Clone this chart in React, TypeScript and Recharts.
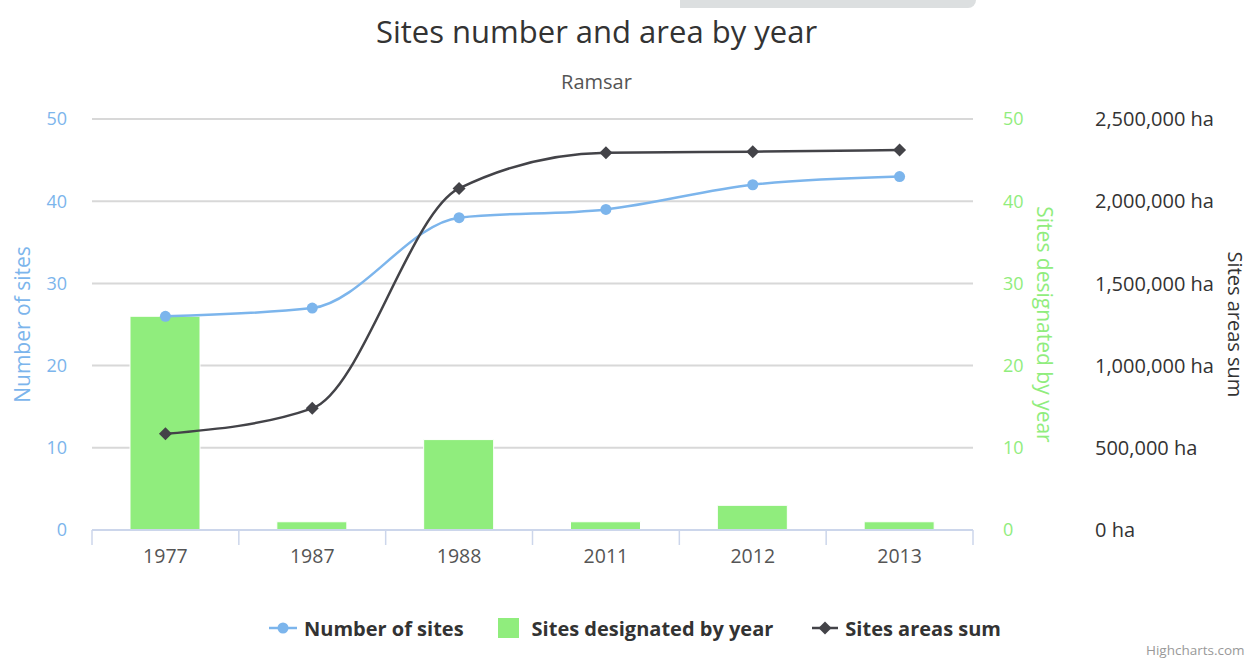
import React from 'react';
import {
  ComposedChart, Bar, Line, XAxis, YAxis, CartesianGrid,
} from 'recharts';

const years = ['1977', '1987', '1988', '2011', '2012', '2013'];
const numberOfSites = [26, 27, 38, 39, 42, 43];
const sitesDesignated = [26, 1, 11, 1, 3, 1];
const areasSum = [585000, 740000, 2078000, 2295000, 2301000, 2311000];

const countTicks = [0, 10, 20, 30, 40, 50];
const areaTicks = [0, 500000, 1000000, 1500000, 2000000, 2500000];

const data = years.map((y, i) => ({
  year: y,
  sites: numberOfSites[i],
  designated: sitesDesignated[i],
  area: areasSum[i],
}));

const BLUE = '#7cb5ec';
const GREEN = '#90ed7d';
const DARK = '#434348';
const AXIS = '#ccd6eb';
const FONT = '"Open Sans", sans-serif';

const Diamond = (props: any) => {
  const { cx, cy } = props;
  if (cx == null || cy == null) return null;
  const s = 6.5;
  return <path d={`M${cx},${cy - s}L${cx + s},${cy}L${cx},${cy + s}L${cx - s},${cy}Z`} fill={DARK} />;
};

const CategoryTick = (props: any) => {
  const { x, y, payload, index } = props;
  const half = payload && typeof payload.offset === 'number' ? payload.offset : 0;
  const last = index === years.length - 1;
  return (
    <g>
      {half > 0 && <line x1={x - half} y1={y} x2={x - half} y2={y + 15} stroke={AXIS} strokeWidth={1.5} />}
      {half > 0 && last && <line x1={x + half} y1={y} x2={x + half} y2={y + 15} stroke={AXIS} strokeWidth={1.5} />}
      <text x={x} y={y + 19} dy="0.71em" textAnchor="middle" fill="#555" fontSize={19.5} fontFamily={FONT}>
        {payload.value}
      </text>
    </g>
  );
};

const AxisTitle = (props: any) => {
  const { viewBox, text, color, off, rot, size } = props;
  if (!viewBox) return null;
  const cx = viewBox.x + off;
  const cy = viewBox.y + viewBox.height / 2;
  return (
    <text x={cx} y={cy} transform={`rotate(${rot} ${cx} ${cy})`} textAnchor="middle"
      dominantBaseline="central" fill={color} fontSize={size || 21} fontFamily={FONT}>
      {text}
    </text>
  );
};

const fmtArea = (v: number) => `${v.toLocaleString('en-US')} ha`;

export default function App() {
  return (
    <div style={{ position: 'absolute', left: 0, top: 0, width: 1249, height: 659, overflow: 'hidden', background: '#fff', fontFamily: FONT }}>
      <div style={{ position: 'absolute', left: 680, top: 0, width: 296, height: 8, background: '#dcdfe0', borderBottomRightRadius: 10 }} />
      <div style={{ position: 'absolute', left: 0, top: 16, width: 1193, textAlign: 'center', fontSize: 31, lineHeight: '30px', color: '#333' }}>
        Sites number and area by year
      </div>
      <div style={{ position: 'absolute', left: 0, top: 72, width: 1193, textAlign: 'center', fontSize: 20, lineHeight: '20px', color: '#555' }}>
        Ramsar
      </div>
      <ComposedChart width={1249} height={659} data={data} margin={{ top: 119, right: 0, bottom: 89, left: 0 }}>
        <CartesianGrid vertical={false} stroke="#d8d8d8" strokeWidth={2} yAxisId="sites" />
        <XAxis xAxisId="b_cat" dataKey="year" height={40} tickLine={false} tickSize={0} tickMargin={0}
          axisLine={{ stroke: AXIS, strokeWidth: 2 }} tick={<CategoryTick />} />
        <YAxis yAxisId="sites" orientation="left" width={92} domain={[0, 50]} ticks={countTicks}
          axisLine={false} tickLine={false} tickSize={0} tickMargin={25}
          tick={{ fill: BLUE, fontSize: 18, fontFamily: FONT }}
          label={<AxisTitle text="Number of sites" color={BLUE} off={22} rot={-90} />} />
        <YAxis yAxisId="b_area" orientation="right" width={166} domain={[0, 2500000]} ticks={areaTicks}
          axisLine={false} tickLine={false} tickSize={0} tickMargin={12} tickFormatter={fmtArea}
          tick={{ fill: '#333', fontSize: 20, fontFamily: FONT, textAnchor: 'start' }}
          label={<AxisTitle text="Sites areas sum" color="#333" off={152} rot={90} size={20} />} />
        <YAxis yAxisId="a_designated" orientation="right" width={110} domain={[0, 50]} ticks={countTicks}
          axisLine={false} tickLine={false} tickSize={0} tickMargin={30}
          tick={{ fill: GREEN, fontSize: 18, fontFamily: FONT }}
          label={<AxisTitle text="Sites designated by year" color={GREEN} off={72} rot={90} />} />
        <Line xAxisId="b_cat" yAxisId="sites" type="monotone" dataKey="sites" stroke={BLUE} strokeWidth={2.5}
          dot={{ r: 5.5, fill: BLUE, stroke: 'none' }} isAnimationActive={false} />
        <Bar xAxisId="b_cat" yAxisId="a_designated" dataKey="designated" fill={GREEN} barSize={70}
          stroke="#fff" strokeWidth={1} isAnimationActive={false} />
        <Line xAxisId="b_cat" yAxisId="b_area" type="monotone" dataKey="area" stroke={DARK} strokeWidth={2.5}
          dot={<Diamond />} isAnimationActive={false} />
      </ComposedChart>
      <div style={{ position: 'absolute', left: 0, width: 1269, top: 616, height: 24, display: 'flex', justifyContent: 'center', alignItems: 'center', fontSize: 20, fontWeight: 700, color: '#333' }}>
        <svg width={30} height={24} style={{ marginRight: 6 }}>
          <line x1={1} y1={12} x2={29} y2={12} stroke={BLUE} strokeWidth={2.5} />
          <circle cx={15} cy={12} r={5.5} fill={BLUE} />
        </svg>
        <span>Number of sites</span>
        <svg width={22} height={22} style={{ marginLeft: 34, marginRight: 12 }}>
          <rect x={0} y={1} width={21} height={20} fill={GREEN} />
        </svg>
        <span>Sites designated by year</span>
        <svg width={28} height={24} style={{ marginLeft: 38, marginRight: 6 }}>
          <line x1={1} y1={12} x2={27} y2={12} stroke={DARK} strokeWidth={2.5} />
          <path d="M14,5.5L20.5,12L14,18.5L7.5,12Z" fill={DARK} />
        </svg>
        <span>Sites areas sum</span>
      </div>
      <div style={{ position: 'absolute', left: 1146, top: 641, fontSize: 13.5, color: '#999', whiteSpace: 'nowrap' }}>
        Highcharts.com
      </div>
    </div>
  );
}
